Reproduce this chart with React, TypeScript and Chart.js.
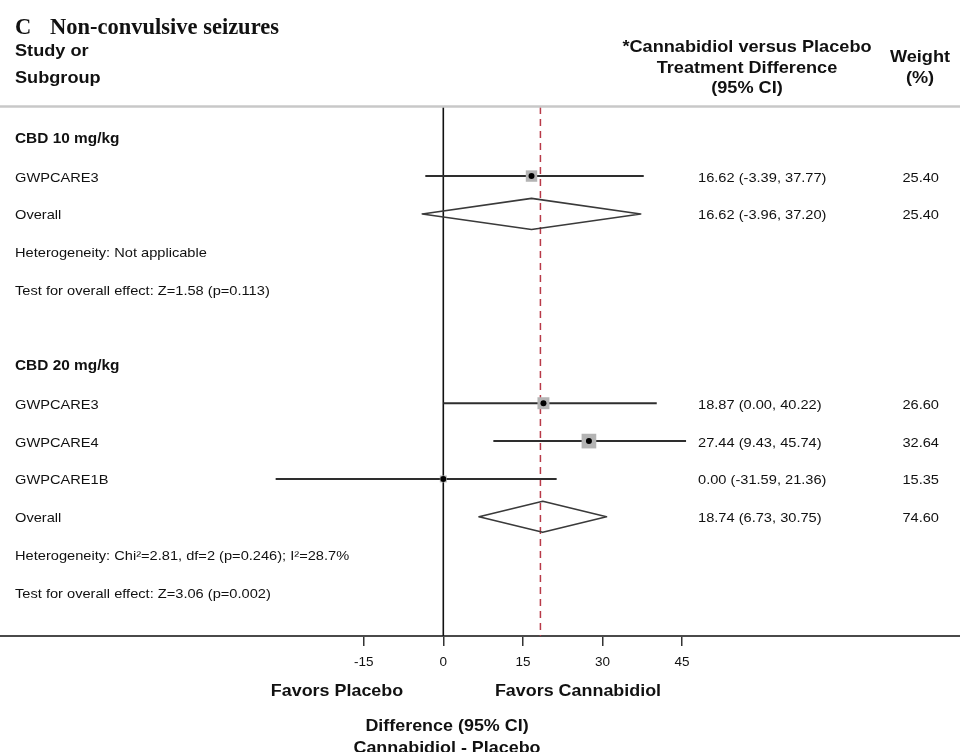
import React, { useEffect, useRef } from 'react';
import { Chart, registerables } from 'chart.js';

Chart.register(...registerables);

// ---------- data ----------
const TITLE_LETTER = 'C';
const TITLE = 'Non-convulsive seizures';

const GROUPS = ['CBD 10 mg/kg', 'CBD 20 mg/kg'];
const GROUP_ROWS = [0, 6];

const STUDIES = ['GWPCARE3', 'GWPCARE3', 'GWPCARE4', 'GWPCARE1B'];
const STUDY_ROWS = [1, 7, 8, 9];
const STUDY_EST = [16.62, 18.87, 27.44, 0.0];
const STUDY_LO = [-3.39, 0.0, 9.43, -31.59];
const STUDY_HI = [37.77, 40.22, 45.74, 21.36];
const STUDY_WEIGHT = [25.4, 26.6, 32.64, 15.35];

const OVERALL_LABEL = 'Overall';
const OVERALL_ROWS = [2, 10];
const OVERALL_EST = [16.62, 18.74];
const OVERALL_LO = [-3.96, 6.73];
const OVERALL_HI = [37.2, 30.75];
const OVERALL_WEIGHT = [25.4, 74.6];

const NOTES = [
  'Heterogeneity: Not applicable',
  'Test for overall effect: Z=1.58 (p=0.113)',
  'Heterogeneity: Chi\u00B2=2.81, df=2 (p=0.246); I\u00B2=28.7%',
  'Test for overall effect: Z=3.06 (p=0.002)',
];
const NOTE_ROWS = [3, 4, 11, 12];

const X_TICKS = [-15, 0, 15, 30, 45];
const REF_LINE = 18.3;

const HEAD_LEFT = ['Study or', 'Subgroup'];
const HEAD_MID = ['*Cannabidiol versus Placebo', 'Treatment Difference', '(95% CI)'];
const HEAD_RIGHT = ['Weight', '(%)'];
const FAVORS_LEFT = 'Favors Placebo';
const FAVORS_RIGHT = 'Favors Cannabidiol';
const AXIS_TITLE = ['Difference (95% CI)', 'Cannabidiol - Placebo'];

// ---------- layout / style ----------
const W = 960;
const H = 752;
const X_MIN = -83.53;
const X_MAX = 97.36;
const Y_MIN = -0.824;
const Y_MAX = 13.148;
const DIAMOND_HALF = 0.41;
const SX = 1.1;
const SANS = '"Liberation Sans", Arial, Helvetica, sans-serif';
const SERIF = '"Liberation Serif", "Times New Roman", serif';
const TXT = '#111111';

function fmt(e: number, l: number, h: number) {
  return `${e.toFixed(2)} (${l.toFixed(2)}, ${h.toFixed(2)})`;
}

function drawText(
  ctx: CanvasRenderingContext2D,
  s: string,
  x: number,
  y: number,
  font: string,
  align: CanvasTextAlign,
  sx = SX,
  color = TXT
) {
  ctx.save();
  ctx.font = font;
  ctx.fillStyle = color;
  ctx.textBaseline = 'alphabetic';
  ctx.textAlign = align;
  ctx.translate(x, y);
  ctx.scale(sx, 1);
  ctx.fillText(s, 0, 0);
  ctx.restore();
}

const textPlugin = {
  id: 'forestText',
  afterDraw(chart: any) {
    const ctx: CanvasRenderingContext2D = chart.ctx;
    const ys = chart.scales.y;
    const rowY = (r: number) => ys.getPixelForValue(r);
    const body = `13.3px ${SANS}`;
    const bodyBold = `bold 14px ${SANS}`;
    const head = `bold 16.5px ${SANS}`;

    // separator under header
    ctx.save();
    ctx.strokeStyle = '#c8c8c8';
    ctx.lineWidth = 2.5;
    ctx.beginPath();
    ctx.moveTo(0, 106.5);
    ctx.lineTo(W, 106.5);
    ctx.stroke();
    ctx.restore();

    // title
    drawText(ctx, TITLE_LETTER, 15, 34, `bold 22.5px ${SERIF}`, 'left', 1);
    drawText(ctx, TITLE, 50, 34, `bold 22.5px ${SERIF}`, 'left', 1);

    // headers
    HEAD_LEFT.forEach((s, i) => drawText(ctx, s, 15, 56 + i * 27, head, 'left'));
    HEAD_MID.forEach((s, i) => drawText(ctx, s, 747, 52 + i * 20.5, head, 'center'));
    HEAD_RIGHT.forEach((s, i) => drawText(ctx, s, 920, 62 + i * 21, head, 'center'));

    // group labels
    GROUPS.forEach((g, i) => drawText(ctx, g, 15, rowY(GROUP_ROWS[i]) + 5, bodyBold, 'left'));

    // studies
    STUDIES.forEach((s, i) => {
      const y = rowY(STUDY_ROWS[i]) + 5.5;
      drawText(ctx, s, 15, y, body, 'left');
      drawText(ctx, fmt(STUDY_EST[i], STUDY_LO[i], STUDY_HI[i]), 698, y, body, 'left');
      drawText(ctx, STUDY_WEIGHT[i].toFixed(2), 939, y, body, 'right');
    });

    // overall
    OVERALL_ROWS.forEach((r, i) => {
      const y = rowY(r) + 5.5;
      drawText(ctx, OVERALL_LABEL, 15, y, body, 'left');
      drawText(ctx, fmt(OVERALL_EST[i], OVERALL_LO[i], OVERALL_HI[i]), 698, y, body, 'left');
      drawText(ctx, OVERALL_WEIGHT[i].toFixed(2), 939, y, body, 'right');
    });

    // notes
    NOTES.forEach((n, i) => drawText(ctx, n, 15, rowY(NOTE_ROWS[i]) + 5.5, body, 'left'));

    // bottom labels
    const bottomFont = `bold 16.3px ${SANS}`;
    drawText(ctx, FAVORS_LEFT, 337, 696, bottomFont, 'center');
    drawText(ctx, FAVORS_RIGHT, 578, 696, bottomFont, 'center');
    drawText(ctx, AXIS_TITLE[0], 447, 731, bottomFont, 'center');
    drawText(ctx, AXIS_TITLE[1], 447, 753, bottomFont, 'center');
  },
};

export default function App() {
  const ref = useRef<HTMLCanvasElement | null>(null);

  useEffect(() => {
    const canvas = ref.current;
    if (!canvas) return;

    const datasets: any[] = [];

    // center dots (on top)
    datasets.push({
      data: STUDY_EST.map((e, i) => ({ x: e, y: STUDY_ROWS[i] })),
      pointStyle: 'circle',
      pointRadius: 3,
      backgroundColor: '#000',
      borderColor: '#000',
      borderWidth: 0,
      showLine: false,
      order: 0,
    });
    // weight squares
    datasets.push({
      data: STUDY_EST.map((e, i) => ({ x: e, y: STUDY_ROWS[i] })),
      pointStyle: 'rect',
      pointRadius: STUDY_WEIGHT.map((w) => (w * 0.45) / 1.4142),
      backgroundColor: '#b4b4b4',
      borderColor: '#b4b4b4',
      borderWidth: 0,
      showLine: false,
      order: 1,
    });
    // CI lines
    STUDY_EST.forEach((_, i) => {
      datasets.push({
        data: [
          { x: STUDY_LO[i], y: STUDY_ROWS[i] },
          { x: STUDY_HI[i], y: STUDY_ROWS[i] },
        ],
        showLine: true,
        borderColor: '#2e2e2e',
        borderWidth: 2,
        pointRadius: 0,
        order: 2,
      });
    });
    // diamonds
    OVERALL_EST.forEach((e, i) => {
      const r = OVERALL_ROWS[i];
      datasets.push({
        data: [
          { x: OVERALL_LO[i], y: r },
          { x: e, y: r - DIAMOND_HALF },
          { x: OVERALL_HI[i], y: r },
          { x: e, y: r + DIAMOND_HALF },
          { x: OVERALL_LO[i], y: r },
        ],
        showLine: true,
        borderColor: '#3a3a3a',
        borderWidth: 1.6,
        borderJoinStyle: 'round',
        borderCapStyle: 'round',
        pointRadius: 0,
        fill: false,
        tension: 0,
        order: 3,
      });
    });
    // zero line
    datasets.push({
      data: [
        { x: 0, y: Y_MIN },
        { x: 0, y: Y_MAX },
      ],
      showLine: true,
      borderColor: '#111',
      borderWidth: 1.6,
      pointRadius: 0,
      order: 4,
    });
    // reference (pooled) dashed line
    datasets.push({
      data: [
        { x: REF_LINE, y: Y_MIN },
        { x: REF_LINE, y: Y_MAX },
      ],
      showLine: true,
      borderColor: '#b83a48',
      borderWidth: 1.5,
      borderDash: [7, 5],
      pointRadius: 0,
      order: 5,
    });

    const chart = new Chart(canvas, {
      type: 'scatter',
      data: { datasets },
      options: {
        animation: false,
        responsive: false,
        maintainAspectRatio: false,
        layout: { autoPadding: false, padding: { top: 107, left: 0, right: 0, bottom: 0 } },
        plugins: { legend: { display: false }, tooltip: { enabled: false } },
        scales: {
          x: {
            type: 'linear',
            min: X_MIN,
            max: X_MAX,
            afterBuildTicks: (s: any) => {
              s.ticks = X_TICKS.map((v) => ({ value: v }));
            },
            afterFit: (s: any) => {
              s.height = H - 636;
            },
            border: { display: true, color: '#4a4a4a', width: 2 },
            grid: {
              drawOnChartArea: false,
              drawTicks: true,
              tickLength: 10,
              color: '#333',
              lineWidth: 1.5,
            },
            ticks: {
              color: TXT,
              font: { family: SANS, size: 13.5 },
              padding: 8,
              autoSkip: false,
              maxRotation: 0,
              callback: (v: any) => String(v),
            },
          },
          y: {
            type: 'linear',
            display: false,
            min: Y_MIN,
            max: Y_MAX,
            reverse: true,
          },
        },
      } as any,
      plugins: [textPlugin],
    });

    return () => chart.destroy();
  }, []);

  return (
    <div style={{ position: 'absolute', left: 0, top: 0, width: W, height: H, background: '#fff' }}>
      <canvas ref={ref} width={W} height={H} style={{ display: 'block', width: W, height: H }} />
    </div>
  );
}
